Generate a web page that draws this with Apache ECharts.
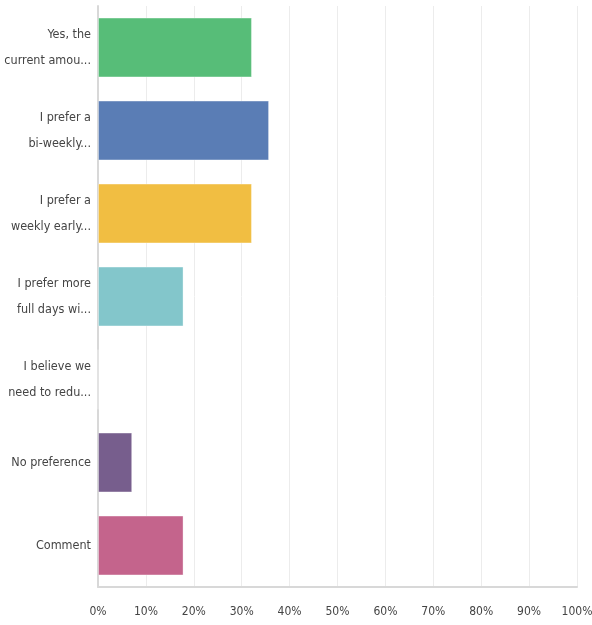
<!DOCTYPE html>
<html><head><meta charset="utf-8">
<script src="https://cdn.jsdelivr.net/npm/echarts@6/dist/echarts.min.js"></script>
<style>html,body{margin:0;padding:0;background:#fff}#c{width:592px;height:625px}</style>
</head><body><div id="c"></div>
<script>
const categories = ["Yes, the\ncurrent amou...", "I prefer a\nbi-weekly...", "I prefer a\nweekly early...", "I prefer more\nfull days wi...", "I believe we\nneed to redu...", "No preference", "Comment"];
const values = [32.14, 35.71, 32.14, 17.86, 0, 7.14, 17.86];
const barColors = ["#57bd78", "#5a7db5", "#f1be42", "#83c6cb", "#dddddd", "#775e8d", "#c4648c"];
const font = '"DejaVu Sans Condensed", "Liberation Sans Narrow", sans-serif';
const chart = echarts.init(document.getElementById('c'));
chart.setOption({
  animation: false,
  grid: {left: 98, right: 15, top: 6, bottom: 38, containLabel: false, outerBoundsMode: 'none'},
  xAxis: {
    type: 'value', min: 0, max: 100, interval: 10,
    axisLabel: {formatter: '{value}%', color: '#444', fontFamily: font, fontSize: 12, margin: 19},
    splitLine: {lineStyle: {color: '#ececec', width: 1}},
    axisLine: {show: true, onZero: false, lineStyle: {color: '#d8d8d8', width: 2}},
    axisTick: {show: false}
  },
  yAxis: {
    type: 'category', data: categories, inverse: true,
    axisLabel: {color: '#444', fontFamily: font, fontSize: 12.5, lineHeight: 26, margin: 7, align: 'right', padding: [4, 0, 0, 0]},
    axisLine: {show: true, lineStyle: {color: '#d8d8d8', width: 2}},
    axisTick: {show: false}
  },
  series: [{
    type: 'bar', barCategoryGap: '28%',
    data: values.map((v, i) => ({value: v, itemStyle: {color: barColors[i]}})),
    itemStyle: {borderColor: 'rgba(255,255,255,0.35)', borderWidth: 1}
  }]
});
</script>
</body></html>
